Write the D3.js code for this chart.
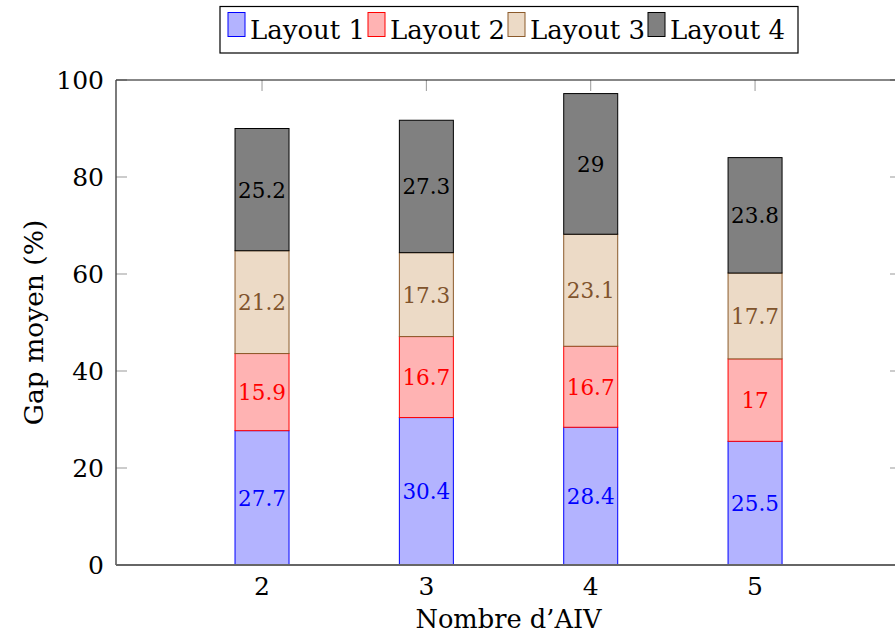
<!DOCTYPE html>
<html>
<head>
<meta charset="utf-8">
<script src="https://cdn.jsdelivr.net/npm/d3@7"></script>
<style>
  body { margin: 0; background: #fff; }
  text { font-family: "DejaVu Serif", serif; }
</style>
</head>
<body>
<div id="chart"></div>
<script>
// data
var categories = [2, 3, 4, 5];
var seriesNames = ["Layout 1", "Layout 2", "Layout 3", "Layout 4"];
var layout1 = [27.7, 30.4, 28.4, 25.5];
var layout2 = [15.9, 16.7, 16.7, 17];
var layout3 = [21.2, 17.3, 23.1, 17.7];
var layout4 = [25.2, 27.3, 29, 23.8];
var yTicks = [0, 20, 40, 60, 80, 100];

var fills = ["#b3b3ff", "#ffb3b3", "#ecdac6", "#808080"];
var strokes = ["#0000ff", "#ff0000", "#8b5a2b", "#000000"];
var textCols = ["#0000ff", "#ff0000", "#80532c", "#000000"];

const W = 895, H = 639;
const plotL = 116, plotR = 901, plotT = 80, plotB = 565;
const barW = 54;
const tickLen = 11;

var svg = d3.select("#chart").append("svg")
  .attr("width", W).attr("height", H);

var x = d3.scaleLinear().domain([1.1115, 5.888]).range([plotL, plotR]);
var y = d3.scaleLinear().domain([0, 100]).range([plotB, plotT]);

// build stacked rows
var allSeries = [layout1, layout2, layout3, layout4];
var rows = categories.map(function(c, i) {
  var r = { cat: c };
  seriesNames.forEach(function(s, k) { r[s] = allSeries[k][i]; });
  return r;
});
var stacked = d3.stack().keys(seriesNames)(rows);

// ticks (drawn under bars)
var ticks = svg.append("g").attr("stroke", "#999").attr("stroke-width", 1);
yTicks.forEach(function(t) {
  ticks.append("line").attr("x1", plotL).attr("x2", plotL + tickLen).attr("y1", y(t)).attr("y2", y(t));
  ticks.append("line").attr("x1", plotR - tickLen).attr("x2", plotR).attr("y1", y(t)).attr("y2", y(t));
});
categories.forEach(function(c) {
  ticks.append("line").attr("x1", x(c)).attr("x2", x(c)).attr("y1", plotT).attr("y2", plotT + tickLen);
  ticks.append("line").attr("x1", x(c)).attr("x2", x(c)).attr("y1", plotB).attr("y2", plotB - tickLen);
});

// bars
stacked.forEach(function(layer, k) {
  var g = svg.append("g");
  g.selectAll("rect")
    .data(layer)
    .enter()
    .append("rect")
    .attr("x", function(d) { return x(d.data.cat) - barW / 2; })
    .attr("y", function(d) { return y(d[1]); })
    .attr("width", barW)
    .attr("height", function(d) { return y(d[0]) - y(d[1]); })
    .attr("fill", fills[k])
    .attr("stroke", strokes[k])
    .attr("stroke-width", 1);
});

// labels in the middle of each segment
stacked.forEach(function(layer, k) {
  svg.append("g").selectAll("text")
    .data(layer)
    .enter()
    .append("text")
    .attr("x", function(d) { return x(d.data.cat); })
    .attr("y", function(d) { return y((d[0] + d[1]) / 2) + 8; })
    .attr("text-anchor", "middle")
    .attr("font-size", "21.5px")
    .attr("fill", textCols[k])
    .text(function(d) { return d.data[seriesNames[k]]; });
});

// frame
svg.append("line").attr("x1", plotL).attr("x2", plotR).attr("y1", plotT).attr("y2", plotT)
  .attr("stroke", "#111").attr("stroke-width", 1.2);
svg.append("line").attr("x1", plotL).attr("x2", plotL).attr("y1", plotT).attr("y2", plotB)
  .attr("stroke", "#444").attr("stroke-width", 1.4);
svg.append("line").attr("x1", plotR).attr("x2", plotR).attr("y1", plotT).attr("y2", plotB)
  .attr("stroke", "#444").attr("stroke-width", 1.4);
svg.append("line").attr("x1", plotL).attr("x2", plotR).attr("y1", plotB).attr("y2", plotB)
  .attr("stroke", "#666").attr("stroke-width", 2);

// tick labels
svg.append("g").selectAll("text")
  .data(yTicks)
  .enter()
  .append("text")
  .attr("x", plotL - 12)
  .attr("y", function(d) { return y(d) + 9; })
  .attr("text-anchor", "end")
  .attr("font-size", "25px")
  .text(function(d) { return d; });

svg.append("g").selectAll("text")
  .data(categories)
  .enter()
  .append("text")
  .attr("x", function(d) { return x(d); })
  .attr("y", 595)
  .attr("text-anchor", "middle")
  .attr("font-size", "25px")
  .text(function(d) { return d; });

// axis titles
svg.append("text")
  .attr("transform", "translate(43," + ((plotT + plotB) / 2) + ") rotate(-90)")
  .attr("text-anchor", "middle")
  .attr("font-size", "26.5px")
  .text("Gap moyen (%)");

svg.append("text")
  .attr("x", (x(2) + x(5)) / 2)
  .attr("y", 628)
  .attr("text-anchor", "middle")
  .attr("font-size", "25.7px")
  .text("Nombre d\u2019AIV");

// legend
var legend = svg.append("g");
legend.append("rect")
  .attr("x", 220).attr("y", 6.5).attr("width", 578).attr("height", 46.5)
  .attr("fill", "#fff").attr("stroke", "#000").attr("stroke-width", 1.2);
seriesNames.forEach(function(s, k) {
  var lx = 228 + k * 140;
  legend.append("rect")
    .attr("x", lx).attr("y", 12.5).attr("width", 17).attr("height", 24)
    .attr("fill", fills[k]).attr("stroke", strokes[k]).attr("stroke-width", 1);
  legend.append("text")
    .attr("x", lx + 22).attr("y", 39)
    .attr("font-size", "26px")
    .text(s);
});
</script>
</body>
</html>
